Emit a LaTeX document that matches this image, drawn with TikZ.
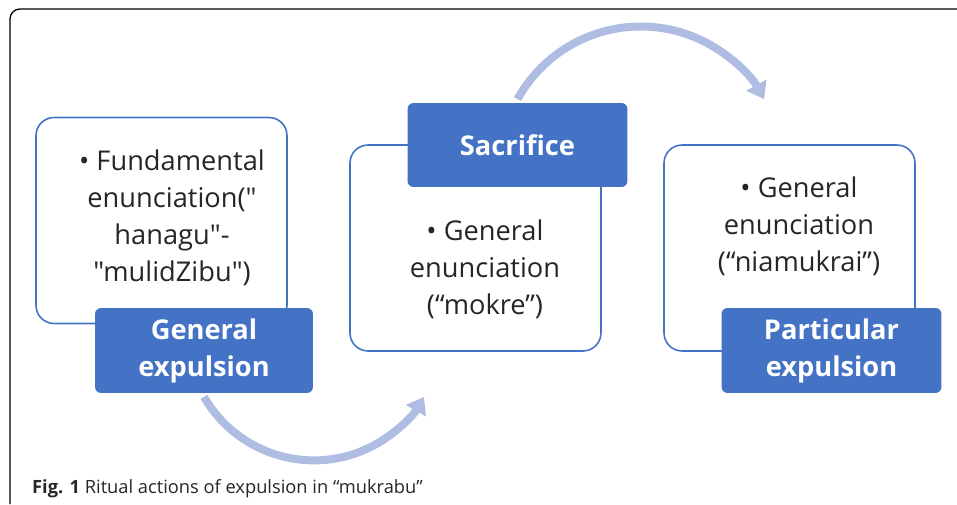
\documentclass[tikz,border=0pt]{standalone}
\usepackage{fontspec}
\setmainfont{Open Sans}[Ligatures=TeXOff]
\usetikzlibrary{arrows.meta}
\definecolor{smartblue}{RGB}{68,114,196}
\definecolor{flowblue}{RGB}{176,189,226}
\definecolor{inktext}{RGB}{38,38,38}

\begin{document}
\begin{tikzpicture}[x=0.02cm, y=-0.02cm,
        box/.style={rectangle, draw=smartblue, line width=0.9pt, fill=white, rounded corners=0.36cm, minimum width=5.02cm, minimum height=4.12cm},
        tag/.style={rectangle, fill=smartblue, text=white, rounded corners=0.12cm, minimum width=4.4cm, minimum height=1.7cm, align=center, font=\fontsize{15.5}{21}\selectfont\bfseries},
        txt/.style={align=center, text=inktext, font=\fontsize{15.5}{21}\selectfont},
        flow/.style={-{Triangle[width=0.44cm, length=0.32cm]}, line width=0.16cm, draw=flowblue}]
        \useasboundingbox (0,0) rectangle (957,504);
        \draw[line width=0.75pt, rounded corners=0.2cm] (10,504) -- (10,9) -- (957,9);

        % three stages
        \node[box] (box1) at (161.5,220.5) {};
        \node[box] (box2) at (475.5,248) {};
        \node[box] (box3) at (789.5,248) {};

        \node[txt] (say1) at (172,218) {• Fundamental\\enunciation("\\hanagu"-\\"mulidZibu")};
        \node[txt] (say2) at (485,269) {• General\\enunciation\\(“mokre”)};
        \node[txt] (say3) at (799,226) {• General\\enunciation\\(“niamukrai”)};

        \node[tag, minimum width=4.36cm] (tag1) at (204,350.5) {General\\expulsion};
        \node[tag, minimum height=1.68cm] (tag2) at (517.5,145) {Sacrifice};
        \node[tag] (tag3) at (831.5,350.5) {Particular\\expulsion};

        \path[flow] ([yshift=-2pt]tag1.south) arc[start angle=210, end angle=330, radius=2.54cm];
        \path[flow] ([yshift=2pt]tag2.north) arc[start angle=151, end angle=29, radius=2.82cm];

        \node[anchor=base west, text=inktext, font=\fontsize{10.4}{12}\selectfont] (caption) at (26,493) {\textbf{Fig. 1} Ritual actions of expulsion in “mukrabu”};
\end{tikzpicture}
\end{document}
